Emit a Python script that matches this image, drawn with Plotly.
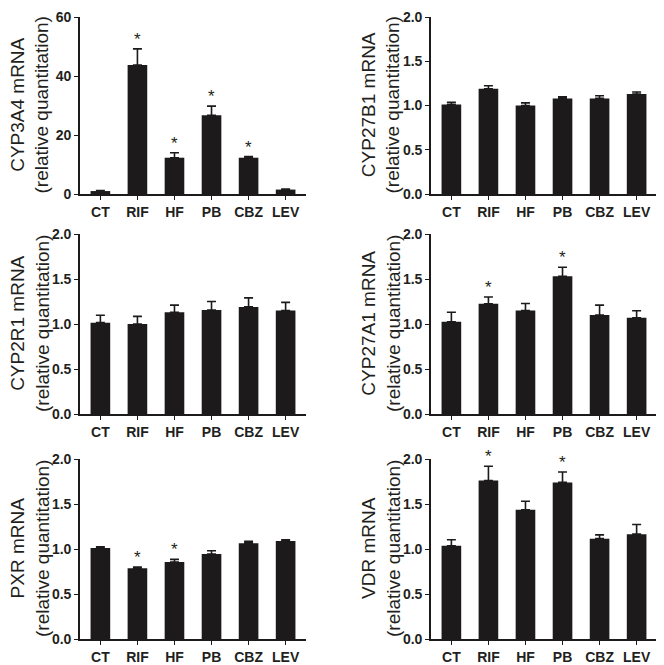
import plotly.graph_objects as go

categories = ["CT", "RIF", "HF", "PB", "CBZ", "LEV"]

cyp3a4_mean = [1.0, 43.7, 12.3, 26.7, 12.3, 1.5]
cyp3a4_err = [0.2, 5.5, 1.7, 3.1, 0.4, 0.2]
cyp3a4_sig = ["RIF", "HF", "PB", "CBZ"]

cyp27b1_mean = [1.01, 1.19, 1.00, 1.08, 1.08, 1.13]
cyp27b1_err = [0.025, 0.033, 0.03, 0.018, 0.03, 0.022]
cyp27b1_sig = []

cyp2r1_mean = [1.015, 1.00, 1.13, 1.155, 1.19, 1.15]
cyp2r1_err = [0.082, 0.085, 0.08, 0.095, 0.10, 0.09]
cyp2r1_sig = []

cyp27a1_mean = [1.025, 1.225, 1.15, 1.53, 1.10, 1.07]
cyp27a1_err = [0.105, 0.075, 0.077, 0.10, 0.11, 0.078]
cyp27a1_sig = ["RIF", "PB"]

pxr_mean = [1.01, 0.785, 0.855, 0.945, 1.065, 1.09]
pxr_err = [0.015, 0.014, 0.03, 0.035, 0.02, 0.012]
pxr_sig = ["RIF", "HF"]

vdr_mean = [1.035, 1.76, 1.435, 1.74, 1.115, 1.165]
vdr_err = [0.067, 0.16, 0.095, 0.115, 0.042, 0.108]
vdr_sig = ["RIF", "PB"]

titles = ["CYP3A4 mRNA", "CYP27B1 mRNA", "CYP2R1 mRNA",
          "CYP27A1 mRNA", "PXR mRNA", "VDR mRNA"]
subtitle = "(relative quantitation)"

panels = [
    (cyp3a4_mean, cyp3a4_err, cyp3a4_sig),
    (cyp27b1_mean, cyp27b1_err, cyp27b1_sig),
    (cyp2r1_mean, cyp2r1_err, cyp2r1_sig),
    (cyp27a1_mean, cyp27a1_err, cyp27a1_sig),
    (pxr_mean, pxr_err, pxr_sig),
    (vdr_mean, vdr_err, vdr_sig),
]

# the page body has an 8px margin: the figure fills the rest of the window
OFF = 8
W, H = 664 - OFF, 665 - OFF
# screen-pixel layout of each plot area: (left, right, top, bottom)
boxes = [
    (80, 306, 17, 194),
    (431, 657, 17, 194),
    (80, 306, 234, 414),
    (431, 657, 234, 414),
    (80, 306, 459, 639),
    (431, 657, 459, 639),
]
title_x = [30, 381, 30, 381, 30, 381]

BLACK = "#1c1a1a"
TXT = "#231f20"
FONT = "Liberation Sans, Arial, sans-serif"

fig = go.Figure()
annotations = []
layout = {}
for i, ((mean, err, sig), box) in enumerate(zip(panels, boxes)):
    n = i + 1
    xa = "x" if n == 1 else f"x{n}"
    ya = "y" if n == 1 else f"y{n}"
    xkey = "xaxis" if n == 1 else f"xaxis{n}"
    ykey = "yaxis" if n == 1 else f"yaxis{n}"
    fig.add_trace(go.Bar(
        x=categories, y=mean, xaxis=xa, yaxis=ya,
        marker=dict(color=BLACK, line=dict(width=0)),
        width=0.53,
        error_y=dict(type="data", array=err, arrayminus=[0] * len(err),
                     color=BLACK, thickness=1.6, width=4.5),
        showlegend=False, hoverinfo="skip",
    ))
    l, r, t, b = [v - OFF for v in box]
    layout[xkey] = dict(
        domain=[l / W, r / W], anchor=ya, type="category", automargin=False,
        range=[-0.55, 5.55], showline=True, linecolor=BLACK, linewidth=1.6,
        ticks="outside", ticklen=4, tickwidth=1.4, tickcolor=BLACK,
        showgrid=False, zeroline=False, ticklabeloverflow="allow",
        tickfont=dict(family=FONT, size=14, color=TXT, weight="bold"),
    )
    if i == 0:
        ymax = 60
        tv = [0, 20, 40, 60]
        tt = ["0", "20", "40", "60"]
    else:
        ymax = 2.0
        tv = [0, 0.5, 1.0, 1.5, 2.0]
        tt = ["0.0", "0.5", "1.0", "1.5", "2.0"]
    layout[ykey] = dict(
        domain=[(H - b) / H, (H - t) / H], anchor=xa, automargin=False,
        range=[0, ymax], showline=True, linecolor=BLACK, linewidth=1.6,
        ticks="outside", ticklen=4, tickwidth=1.4, tickcolor=BLACK,
        tickvals=tv, ticktext=tt, showgrid=False, zeroline=False,
        ticklabeloverflow="allow",
        tickfont=dict(family=FONT, size=14, color=TXT, weight="bold"),
    )
    # significance stars
    for c in sig:
        k = categories.index(c)
        annotations.append(dict(
            x=c, y=mean[k] + err[k], xref=xa, yref=ya, text="*",
            showarrow=False, yanchor="bottom", yshift=-2,
            font=dict(family=FONT, size=17, color=TXT),
        ))
    # y-axis titles
    cy = 1 - ((t + b) / 2) / H
    annotations.append(dict(
        x=(title_x[i] - OFF) / W, y=cy, xref="paper", yref="paper",
        text=titles[i] + "<br>" + subtitle, textangle=-90,
        showarrow=False, xanchor="center", yanchor="middle",
        font=dict(family=FONT, size=19, color=TXT),
    ))

fig.update_layout(
    width=W, height=H, margin=dict(l=0, r=0, t=0, b=0, autoexpand=False),
    paper_bgcolor="white", plot_bgcolor="white",
    annotations=annotations, bargap=0.47, **layout,
)
fig.write_html("out.html")
